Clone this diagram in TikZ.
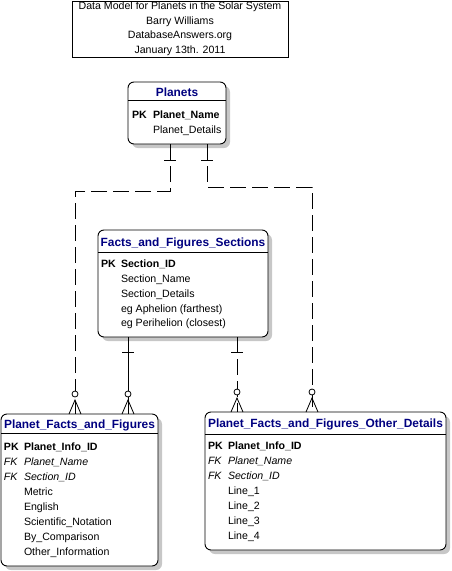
\documentclass[tikz,border=0pt]{standalone}
\usepackage{fontspec}
\setmainfont{Liberation Sans}
\usetikzlibrary{calc,shadows}
\definecolor{hdrblue}{RGB}{0,0,128}
\begin{document}
\begin{tikzpicture}[x=1pt,y=-1pt,
  every node/.style={inner sep=0pt, outer sep=0pt},
  entbox/.style={draw, line width=0.9pt, rounded corners=6pt, fill=white, anchor=north west,
    drop shadow={shadow xshift=4pt, shadow yshift=-4pt, fill=black!22, opacity=1}},
  hline/.style={line width=0.9pt},
  hdr/.style={anchor=base, font=\fontsize{11.9}{14}\selectfont\bfseries, text=hdrblue},
  fld/.style={anchor=base west, font=\fontsize{10.6}{13}\selectfont},
  key/.style={anchor=base west, font=\fontsize{10.6}{13}\selectfont\bfseries},
  fk/.style={anchor=base west, font=\fontsize{10.6}{13}\selectfont\itshape},
  rel/.style={line width=0.8pt},
  reldash/.style={line width=0.8pt, dash pattern=on 16pt off 6pt},
  onebar/.pic={\draw[line width=0.8pt] (-6,0) -- (6,0);},
  zeromany/.pic={\draw[line width=0.8pt, fill=white] (0,-20) circle (3pt);
                 \draw[line width=0.8pt] (-6,0) -- (0,-14) -- (6,0);}
]
\useasboundingbox (0,0) rectangle (452,571);

% title
\node[draw, line width=0.9pt, minimum width=216pt, minimum height=56pt, align=center,
      font=\fontsize{10.6}{14.5}\selectfont] (title) at (180,29)
  {Data Model for Planets in the Solar System\\Barry Williams\\DatabaseAnswers.org\\January 13th. 2011};

% Planets
\node[entbox, minimum width=98pt, minimum height=62pt] (planets) at (128,82) {};
\draw[hline] ($(planets.north west)+(0,18)$) -- ($(planets.north east)+(0,18)$);
\node[hdr] (planetsT) at (177,96) {Planets};
\node[key] (planetsPK) at (132,118) {PK};
\node[key] (planetsF1) at (153,118) {Planet\_Name};
\node[fld] (planetsF2) at (153,133) {Planet\_Details};

% Sections
\node[entbox, minimum width=170pt, minimum height=107pt] (sections) at (98,230) {};
\draw[hline] ($(sections.north west)+(0,22)$) -- ($(sections.north east)+(0,22)$);
\node[hdr] (sectionsT) at (183,246) {Facts\_and\_Figures\_Sections};
\node[key] (sectionsPK) at (101,267) {PK};
\node[key] (sectionsF1) at (121,267) {Section\_ID};
\node[fld] (sectionsF2) at (121,282) {Section\_Name};
\node[fld] (sectionsF3) at (121,297) {Section\_Details};
\node[fld] (sectionsF4) at (121,312) {eg Aphelion (farthest)};
\node[fld] (sectionsF5) at (121,326) {eg Perihelion (closest)};

% Planet_Facts_and_Figures
\node[entbox, minimum width=157pt, minimum height=152pt] (pff) at (1,414) {};
\draw[hline] ($(pff.north west)+(0,19)$) -- ($(pff.north east)+(0,19)$);
\node[hdr] (pffT) at (79.5,428) {Planet\_Facts\_and\_Figures};
\node[key] (pffPK) at (4,450) {PK};
\node[key] (pffF1) at (24,450) {Planet\_Info\_ID};
\node[fk] (pffFK1) at (4,465) {FK};
\node[fk] (pffF2) at (24,465) {Planet\_Name};
\node[fk] (pffFK2) at (4,480) {FK};
\node[fk] (pffF3) at (24,480) {Section\_ID};
\node[fld] (pffF4) at (24,495) {Metric};
\node[fld] (pffF5) at (24,510) {English};
\node[fld] (pffF6) at (24,525) {Scientific\_Notation};
\node[fld] (pffF7) at (24,540) {By\_Comparison};
\node[fld] (pffF8) at (24,555) {Other\_Information};

% Planet_Facts_and_Figures_Other_Details
\node[entbox, minimum width=241pt, minimum height=138pt] (other) at (205,412) {};
\draw[hline] ($(other.north west)+(0,22)$) -- ($(other.north east)+(0,22)$);
\node[hdr] (otherT) at (325.5,427) {Planet\_Facts\_and\_Figures\_Other\_Details};
\node[key] (otherPK) at (208,449) {PK};
\node[key] (otherF1) at (228,449) {Planet\_Info\_ID};
\node[fk] (otherFK1) at (208,464) {FK};
\node[fk] (otherF2) at (228,464) {Planet\_Name};
\node[fk] (otherFK2) at (208,479) {FK};
\node[fk] (otherF3) at (228,479) {Section\_ID};
\node[fld] (otherF4) at (228,494) {Line\_1};
\node[fld] (otherF5) at (228,509) {Line\_2};
\node[fld] (otherF6) at (228,524) {Line\_3};
\node[fld] (otherF7) at (228,539) {Line\_4};

% connectors
\coordinate (c1) at (170,191);
\coordinate (c2) at (75,191);
\draw[reldash] (planets.south -| c1) -- (c1) -- (c2) -- (pff.north -| c2);
\pic at ($(planets.south -| c1)+(0,16)$) {onebar};
\pic at (pff.north -| c2) {zeromany};

\coordinate (d1) at (207,187);
\coordinate (d2) at (312,187);
\draw[reldash] (planets.south -| d1) -- (d1) -- (d2) -- (other.north -| d2);
\pic at ($(planets.south -| d1)+(0,16)$) {onebar};
\pic at (other.north -| d2) {zeromany};

\coordinate (e1) at (128,0);
\draw[rel] (sections.south -| e1) -- (pff.north -| e1);
\pic at ($(sections.south -| e1)+(0,15)$) {onebar};
\pic at (pff.north -| e1) {zeromany};

\coordinate (f1) at (237,0);
\draw[reldash] (sections.south -| f1) -- (other.north -| f1);
\pic at ($(sections.south -| f1)+(0,15)$) {onebar};
\pic at (other.north -| f1) {zeromany};
\end{tikzpicture}
\end{document}
